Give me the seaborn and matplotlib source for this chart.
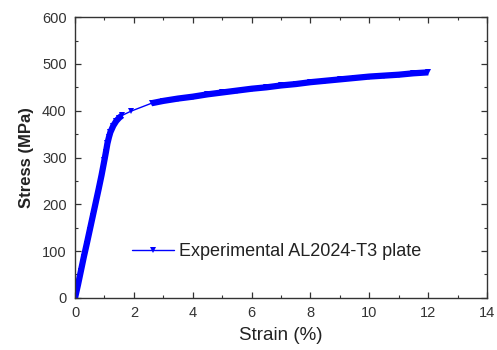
import matplotlib
matplotlib.use("Agg")
import matplotlib.pyplot as plt
import seaborn as sns
import pandas as pd
from matplotlib.ticker import MultipleLocator

# values
strain = [0, 0.1, 0.2, 0.3, 0.4, 0.5, 0.6, 0.7, 0.8, 0.9, 1.0, 1.05, 1.1, 1.15,
          1.2, 1.3, 1.4, 1.5, 1.6, 1.9, 2.6, 3.0, 3.5, 4.0, 4.5, 5.0, 5.5, 6.0,
          6.5, 7.0, 7.5, 8.0, 8.5, 9.0, 9.5, 10.0, 10.5, 11.0, 11.5, 12.0]
stress = [0, 28, 58, 88, 116, 145, 174, 203, 232, 262, 295, 312, 330, 343,
          354, 368, 378, 385, 390, 399, 416, 421, 426, 430, 435, 439, 443, 447,
          450, 454, 457, 461, 464, 467, 470, 473, 475, 477, 480, 482]
label = "Experimental AL2024-T3 plate"

sns.set_theme(style="ticks")
plt.rcParams["font.family"] = ["Liberation Sans", "DejaVu Sans"]

df = pd.DataFrame({"strain": strain, "stress": stress})
blue = "#0000ff"

fig = plt.figure(figsize=(4.97, 3.5), dpi=100)
ax = fig.add_axes([0.151, 0.149, 0.829, 0.802])

# dense measurement regions drawn as a thick band
elastic = df[df["strain"] <= 1.6]
hardening = df[df["strain"] >= 2.6]
for part in (elastic, hardening):
    sns.lineplot(data=part, x="strain", y="stress", ax=ax, color=blue,
                 lw=4.5, solid_capstyle="butt", legend=False)

sns.lineplot(data=df, x="strain", y="stress", ax=ax, color=blue, lw=1,
             marker="v", markersize=5, markeredgewidth=0, label=label)

ax.set_xlim(0, 14)
ax.set_ylim(0, 600)
ax.xaxis.set_major_locator(MultipleLocator(2))
ax.xaxis.set_minor_locator(MultipleLocator(1))
ax.yaxis.set_major_locator(MultipleLocator(100))
ax.yaxis.set_minor_locator(MultipleLocator(50))
ax.tick_params(which="both", direction="in", top=True, right=True,
               color="#333333", labelcolor="#333333", labelsize=10.5, pad=6)
ax.tick_params(which="major", length=4, width=0.9)
ax.tick_params(which="minor", length=2.5, width=0.8)
for s in ax.spines.values():
    s.set_color("#333333")
    s.set_linewidth(1.0)

ax.set_xlabel("Strain (%)", fontsize=13.5, color="#222222", labelpad=5)
ax.set_ylabel("Stress (MPa)", fontsize=12, fontweight="bold",
              color="#222222", labelpad=6)

handles, labels = ax.get_legend_handles_labels()
ax.legend(handles[-1:], labels[-1:], loc="center left",
          bbox_to_anchor=(0.10, 0.164), frameon=False, fontsize=13,
          handlelength=2.3, handletextpad=0.3, numpoints=1,
          labelcolor="#222222")

fig.savefig("out.png", dpi=100)
